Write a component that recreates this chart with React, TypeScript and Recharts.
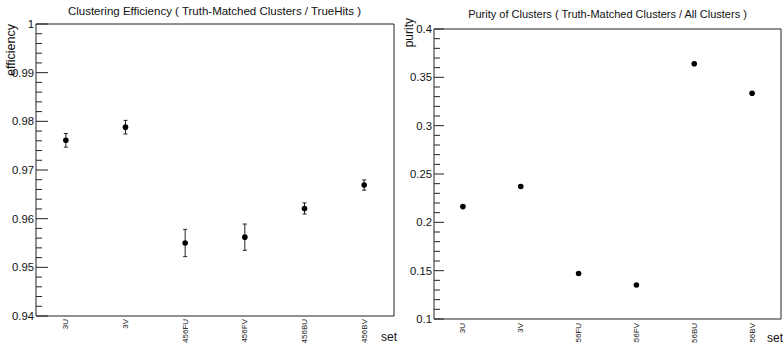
import React from 'react';
import { ComposedChart, Scatter, XAxis, YAxis, ErrorBar, ReferenceArea } from 'recharts';

// Cluster sets (categories on the x axis)
const sets = ['3U', '3V', '456FU', '456FV', '456BU', '456BV'];

// Clustering efficiency per set, with its uncertainty
const efficiency = [0.9761, 0.9788, 0.955, 0.9562, 0.9621, 0.9669];
const efficiencyErr = [0.0014, 0.0014, 0.0028, 0.0027, 0.00115, 0.00105];

// Purity per set
const purity = [0.2163, 0.237, 0.147, 0.1352, 0.364, 0.3335];

// Labelled y-axis ticks
const effMajorTicks = [0.94, 0.95, 0.96, 0.97, 0.98, 0.99, 1];
const purMajorTicks = [0.1, 0.15, 0.2, 0.25, 0.3, 0.35, 0.4];

const FONT = '"Liberation Sans", Arial, Helvetica, sans-serif';

// Insert unlabelled minor ticks between the labelled ones
function withMinor(major: number[], div: number): number[] {
  const out: number[] = [];
  for (let i = 0; i < major.length - 1; i++) {
    const a = major[i];
    const b = major[i + 1];
    for (let k = 0; k < div; k++) out.push(+(a + ((b - a) * k) / div).toFixed(6));
  }
  out.push(major[major.length - 1]);
  return out;
}

const effData = sets.map((s, i) => ({ set: s, eff: efficiency[i], err: efficiencyErr[i] }));
const purData = sets.map((s, i) => ({ set: s, pur: purity[i] }));

// Inward-pointing ticks on the y axis, labels only on the major ones
const makeYTick = (major: number[], majorLen: number, minorLen: number) => (props: any) => {
  const { x, y, payload } = props;
  const v = payload.value as number;
  const isMajor = major.some((m) => Math.abs(m - v) < 1e-9);
  return (
    <g>
      <line x1={x} x2={x + (isMajor ? majorLen : minorLen)} y1={y} y2={y} stroke="#222" strokeWidth={1} />
      {isMajor && (
        <text x={x - 2} y={y} textAnchor="end" dominantBaseline="central" fontSize={11.3} fontFamily={FONT} fill="#111">
          {String(+v.toFixed(3))}
        </text>
      )}
    </g>
  );
};

// Vertical category labels hanging below the frame
const makeXTick = (dy: number) => (props: any) => {
  const { x, y, payload } = props;
  return (
    <text
      transform={`translate(${x},${y + dy}) rotate(-90)`}
      textAnchor="end"
      dominantBaseline="central"
      fontSize={8}
      fontFamily={FONT}
      fill="#111"
    >
      {payload.value}
    </text>
  );
};

const Dot = (p: any) => <circle cx={p.cx} cy={p.cy} r={2.8} fill="#000" />;

export default function App() {
  return (
    <div style={{ position: 'absolute', left: 0, top: 0, width: 783, height: 343, background: '#fff', overflow: 'hidden' }}>
      <div style={{ position: 'absolute', left: 0, top: 0 }}>
        <ComposedChart width={400} height={343} data={effData} margin={{ top: 24, right: 6, bottom: 0, left: 0 }}>
          <XAxis
            dataKey="set"
            type="category"
            scale="band"
            interval={0}
            height={27}
            tickSize={0}
            tickMargin={0}
            axisLine={false}
            tickLine={false}
            tick={makeXTick(3)}
          />
          <YAxis
            type="number"
            domain={[0.94, 1]}
            allowDataOverflow
            ticks={withMinor(effMajorTicks, 5)}
            interval={0}
            width={36}
            tickSize={0}
            tickMargin={0}
            axisLine={false}
            tickLine={false}
            tick={makeYTick(effMajorTicks, 12, 6)}
          />
          <ReferenceArea y1={0.94} y2={1} fill="none" stroke="#222" strokeWidth={1} fillOpacity={0} ifOverflow="visible" />
          <Scatter dataKey="eff" isAnimationActive={false} shape={Dot}>
            <ErrorBar dataKey="err" direction="y" width={2} stroke="#222" strokeWidth={1} isAnimationActive={false} />
          </Scatter>
        </ComposedChart>
      </div>
      <div style={{ position: 'absolute', left: 392, top: 0 }}>
        <ComposedChart width={391} height={343} data={purData} margin={{ top: 29, right: 2, bottom: 0, left: 0 }}>
          <XAxis
            dataKey="set"
            type="category"
            scale="band"
            interval={0}
            height={24}
            tickSize={0}
            tickMargin={0}
            axisLine={false}
            tickLine={false}
            tick={makeXTick(4)}
          />
          <YAxis
            type="number"
            domain={[0.1, 0.4]}
            allowDataOverflow
            ticks={withMinor(purMajorTicks, 5)}
            interval={0}
            width={42}
            tickSize={0}
            tickMargin={0}
            axisLine={false}
            tickLine={false}
            tick={makeYTick(purMajorTicks, 10, 6)}
          />
          <ReferenceArea y1={0.1} y2={0.4} fill="none" stroke="#222" strokeWidth={1} fillOpacity={0} ifOverflow="visible" />
          <Scatter dataKey="pur" isAnimationActive={false} shape={Dot} />
        </ComposedChart>
      </div>
      <svg width={783} height={343} style={{ position: 'absolute', left: 0, top: 0, pointerEvents: 'none' }}>
        <g fontFamily={FONT} fill="#111">
          <text x={214.5} y={15} textAnchor="middle" fontSize={11.5}>
            Clustering Efficiency ( Truth-Matched Clusters / TrueHits )
          </text>
          <text x={607.5} y={18} textAnchor="middle" fontSize={11}>
            Purity of Clusters ( Truth-Matched Clusters / All Clusters )
          </text>
          <text transform="translate(15,24) rotate(-90)" textAnchor="end" fontSize={12.5}>
            efficiency
          </text>
          <text transform="translate(413,18) rotate(-90)" textAnchor="end" fontSize={12}>
            purity
          </text>
          <text x={381} y={341} fontSize={12}>
            set
          </text>
          <text x={767} y={342} fontSize={12}>
            set
          </text>
        </g>
      </svg>
    </div>
  );
}
